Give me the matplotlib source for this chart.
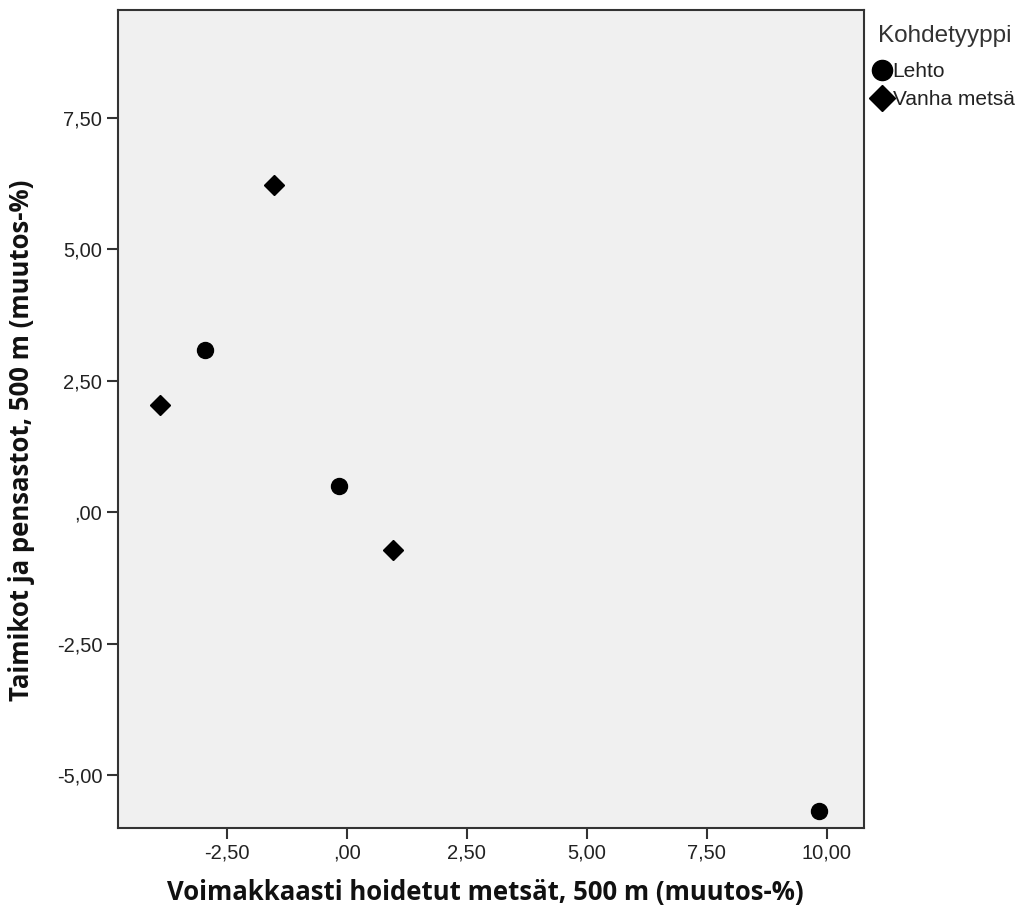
import matplotlib
matplotlib.use("Agg")
import matplotlib.pyplot as plt
from matplotlib.ticker import FuncFormatter

# values
lehto_x = [-2.95, -0.17, 9.84]
lehto_y = [3.08, 0.49, -5.68]
vanha_x = [-3.89, -1.52, 0.97]
vanha_y = [2.04, 6.23, -0.72]

group_names = ["Lehto", "Vanha metsä"]
legend_title = "Kohdetyyppi"
x_label = "Voimakkaasti hoidetut metsät, 500 m (muutos-%)"
y_label = "Taimikot ja pensastot, 500 m (muutos-%)"
ticks = [-5.0, -2.5, 0.0, 2.5, 5.0, 7.5, 10.0]


# SPSS style numbers: 2,50  ,00  -2,50
def spss_fmt(v, pos=None):
    s = "%.2f" % v
    if s in ("0.00", "-0.00"):
        s = ".00"
    return s.replace(".", ",")


plt.rcParams["font.family"] = ["Liberation Sans", "DejaVu Sans"]

fig = plt.figure(figsize=(10.22, 9.14), dpi=100)
ax = fig.add_axes([0.115, 0.094, 0.7305, 0.895])
ax.set_facecolor("#f0f0f0")

ax.plot(lehto_x, lehto_y, "o", color="black", markersize=11.5, linestyle="none",
        label=group_names[0])
ax.plot(vanha_x, vanha_y, "D", color="black", markersize=10.5, linestyle="none",
        label=group_names[1])

ax.set_xlim(-4.78, 10.78)
ax.set_ylim(-6.01, 9.55)
ax.set_xticks([t for t in ticks if t > -4.78])
ax.set_yticks([t for t in ticks if t < 9.55])
ax.xaxis.set_major_formatter(FuncFormatter(spss_fmt))
ax.yaxis.set_major_formatter(FuncFormatter(spss_fmt))
ax.tick_params(length=8, width=1.5, color="#333333", labelsize=14.5,
               labelcolor="#222222", pad=3)
for sp in ax.spines.values():
    sp.set_linewidth(1.5)
    sp.set_color("#333333")

ax.set_xlabel(x_label, fontsize=18.5, fontweight="bold", family="Open Sans",
              color="#111111")
ax.set_ylabel(y_label, fontsize=18.5, fontweight="bold", family="Open Sans",
              color="#111111")
ax.xaxis.set_label_coords(0.493, -0.062)
ax.yaxis.set_label_coords(-0.11, 0.474)

# legend outside the plot, top right; title drawn on its own for the spacing
fig.text(0.859, 1 - 36 / 914, legend_title, fontsize=17.5, color="#333333",
         ha="left", va="center")
h_l = plt.Line2D([], [], marker="o", color="black", markersize=14.5, linestyle="none")
h_v = plt.Line2D([], [], marker="D", color="black", markersize=13.5, linestyle="none")
leg = fig.legend([h_l, h_v], group_names, loc="upper left",
                 bbox_to_anchor=(0.856, 1 - 62 / 914), frameon=False,
                 fontsize=15, handlelength=0.7, handletextpad=0.15,
                 borderpad=0, borderaxespad=0, labelspacing=0.45)
for t in leg.get_texts():
    t.set_color("#222222")

fig.savefig("out.png", dpi=100)
